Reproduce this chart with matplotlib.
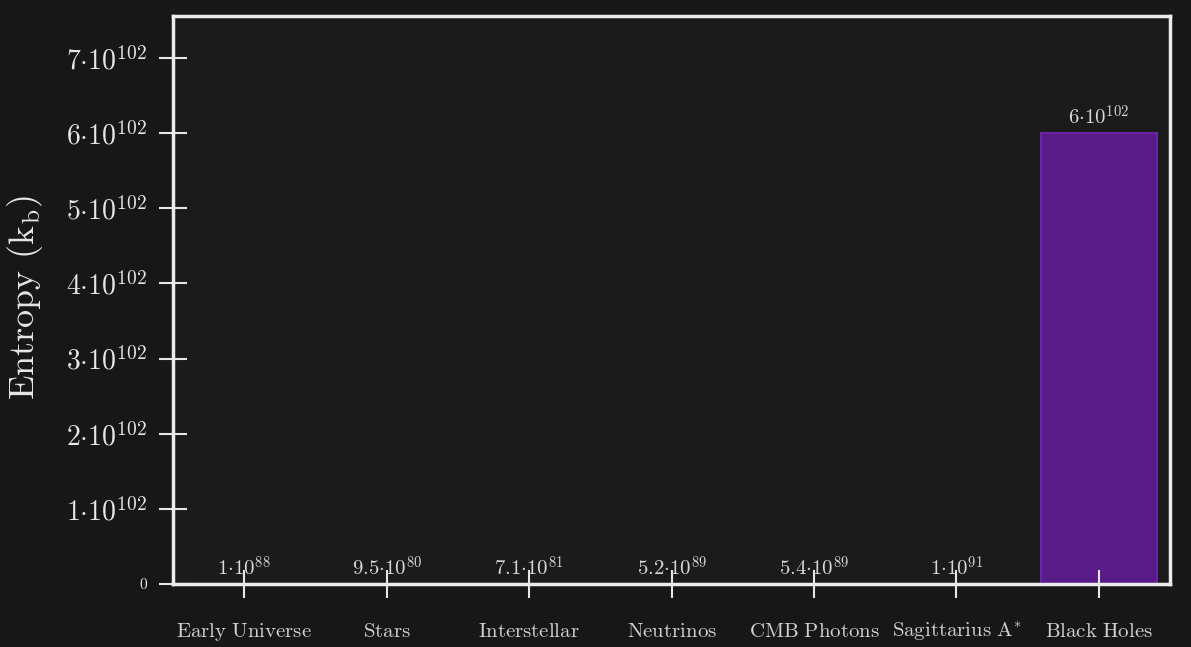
import numpy as np
import matplotlib
matplotlib.use('Agg')
from matplotlib import pyplot as plt

plt.rcParams['font.family'] = 'cmr10'
plt.rcParams['mathtext.fontset'] = 'cm'
plt.rcParams['axes.unicode_minus'] = False

categories = ['Early Universe', 'Stars', 'Interstellar', 'Neutrinos',
              'CMB Photons', 'Sagittarius A*', 'Black Holes']
values = [1e88, 9.5e80, 7.1e81, 5.2e89, 5.4e89, 1e91, 6e102]
value_labels = [r'$1{\cdot}10^{88}$', r'$9.5{\cdot}10^{80}$', r'$7.1{\cdot}10^{81}$',
                r'$5.2{\cdot}10^{89}$', r'$5.4{\cdot}10^{89}$', r'$1{\cdot}10^{91}$',
                r'$6{\cdot}10^{102}$']
ytick_values = [0, 1e102, 2e102, 3e102, 4e102, 5e102, 6e102, 7e102]
ytick_labels = ['0'] + [r'$%d{\cdot}10^{102}$' % k for k in range(1, 8)]

bg = '#171717'
ax_bg = '#1b1b1b'
fg = '#e6e6e6'
bar_color = '#581b88'

fig = plt.figure(figsize=(11.91, 6.47), dpi=100, facecolor=bg)
ax = fig.add_axes([0.1453, 0.0974, 0.8371, 0.8779], facecolor=ax_bg)

x = np.arange(len(categories))
ax.bar(x, values, width=0.81, color=bar_color, edgecolor='#6c24a6', linewidth=1.5)

for xi, v, lab in zip(x, values, value_labels):
    ax.annotate(lab, (xi, v), xytext=(0, 3), textcoords='offset points',
                ha='center', va='bottom', color='#d8d8d8', fontsize=15)

ax.set_xlim(-0.5, 6.5)
ax.set_ylim(0, 7.56e102)
ax.set_xticks(x)
ax.set_xticklabels([r'$\mathrm{%s}$' % c.replace(' ', r'\ ').replace('*', '^{*}')
                    for c in categories], fontsize=15, color='#d0d0d0')
for lbl in ax.get_xticklabels():
    lbl.set_verticalalignment('baseline')
ax.set_yticks(ytick_values)
ax.set_yticklabels(ytick_labels, fontsize=20, color=fg)
ax.get_yticklabels()[0].set_fontsize(11)

ax.tick_params(axis='both', direction='inout', length=20, width=1.5, colors=fg)
ax.tick_params(axis='x', pad=28, labelcolor='#d0d0d0')
ax.tick_params(axis='y', pad=9, labelcolor=fg)

for s in ax.spines.values():
    s.set_color('#ececec')
    s.set_linewidth(2.5)

ax.set_ylabel(r'Entropy $(\mathrm{k_b})$', fontsize=26, color=fg)
ax.yaxis.set_label_coords(-0.128, 0.504)

fig.savefig('out.png', dpi=100, facecolor=bg)
